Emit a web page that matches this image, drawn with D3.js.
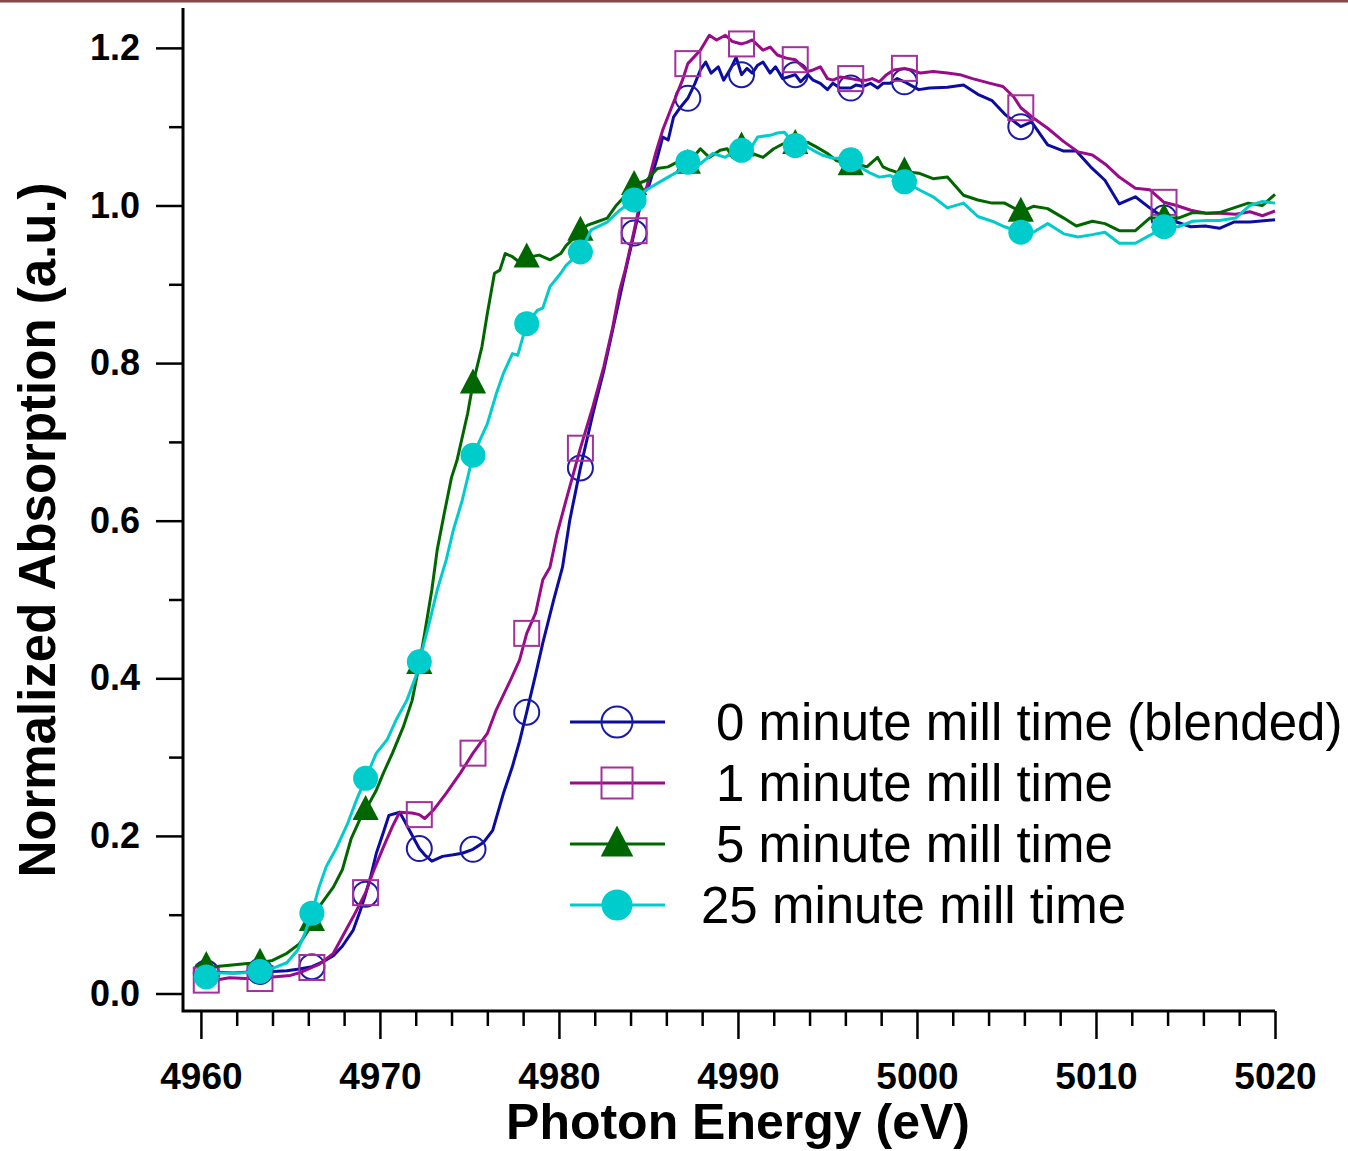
<!DOCTYPE html>
<html>
<head>
<meta charset="utf-8">
<script src="https://cdn.jsdelivr.net/npm/d3@7"></script>
<style>
  html, body { margin: 0; padding: 0; background: #fff; }
  svg { display: block; }
  text { font-family: "Liberation Sans", Arial, sans-serif; }
</style>
</head>
<body>
<svg id="chart" width="1348" height="1151"></svg>
<script>
// ---------------- DATA ----------------
const seriesNames = [
  "0 minute mill time (blended)",
  "1 minute mill time",
  "5 minute mill time",
  "25 minute mill time"
];
const xTickValues = [4960, 4970, 4980, 4990, 5000, 5010, 5020];
const yTickValues = [0.0, 0.2, 0.4, 0.6, 0.8, 1.0, 1.2];
const markerEnergies = [4960.3, 4963.3, 4966.2, 4969.2, 4972.2, 4975.2, 4978.2, 4981.2,
  4984.2, 4987.2, 4990.2, 4993.2, 4996.3, 4999.3, 5005.8, 5013.8];

// 0 minute (blended)  [energy eV, normalized absorption]
const series0 = [
  [4959.7,0.028],[4960.3,0.026],[4961.0,0.027],[4961.8,0.026],[4962.5,0.027],[4963.3,0.028],
  [4964.0,0.028],[4964.8,0.029],[4965.5,0.031],[4966.2,0.034],[4966.8,0.040],[4967.4,0.048],
  [4967.9,0.060],[4968.5,0.080],[4968.9,0.105],[4969.2,0.126],[4969.5,0.150],[4969.8,0.178],
  [4970.2,0.205],[4970.5,0.226],[4971.1,0.230],[4971.4,0.218],[4971.7,0.205],[4972.2,0.184],
  [4972.5,0.176],[4972.9,0.168],[4973.5,0.174],[4974.1,0.176],[4974.6,0.178],[4975.2,0.183],
  [4975.8,0.192],[4976.3,0.207],[4976.9,0.254],[4977.4,0.288],[4977.8,0.320],[4978.2,0.357],
  [4978.7,0.405],[4979.1,0.445],[4979.7,0.499],[4980.2,0.541],[4980.6,0.600],[4981.2,0.667],
  [4981.9,0.736],[4982.5,0.790],[4983.0,0.842],[4983.6,0.905],[4984.2,0.965],[4984.7,1.016],
  [4985.0,1.023],[4985.5,1.061],[4985.8,1.087],[4986.1,1.083],[4986.4,1.112],[4986.8,1.125],
  [4987.2,1.136],[4987.6,1.155],[4987.9,1.172],[4988.2,1.182],[4988.5,1.168],[4988.9,1.176],
  [4989.2,1.159],[4989.6,1.174],[4989.9,1.188],[4990.2,1.166],[4990.5,1.174],[4990.8,1.168],
  [4991.1,1.178],[4991.4,1.182],[4991.8,1.168],[4992.1,1.176],[4992.5,1.161],[4992.8,1.163],
  [4993.2,1.166],[4993.5,1.157],[4993.9,1.166],[4994.2,1.159],[4994.6,1.155],[4995.0,1.147],
  [4995.3,1.155],[4995.7,1.149],[4996.3,1.149],[4996.6,1.153],[4997.0,1.151],[4997.4,1.155],
  [4997.8,1.149],[4998.1,1.155],[4998.5,1.155],[4998.9,1.161],[4999.3,1.157],[5000.1,1.147],
  [5000.7,1.149],[5001.7,1.150],[5002.6,1.153],[5003.4,1.141],[5004.2,1.133],[5004.9,1.116],
  [5005.8,1.100],[5006.4,1.106],[5007.3,1.077],[5008.2,1.069],[5008.9,1.069],[5009.7,1.049],
  [5010.5,1.032],[5011.3,1.002],[5012.2,1.011],[5013.0,0.997],[5013.8,0.984],[5014.5,0.979],
  [5015.3,0.973],[5016.1,0.974],[5016.9,0.971],[5017.7,0.979],[5018.6,0.979],[5020.0,0.982]
];

// 1 minute
const series1 = [
  [4959.7,0.020],[4960.3,0.017],[4961.1,0.018],[4961.6,0.020],[4962.5,0.019],[4963.3,0.019],
  [4964.0,0.021],[4965.0,0.023],[4965.6,0.027],[4966.2,0.033],[4966.6,0.037],[4967.4,0.051],
  [4967.9,0.072],[4968.5,0.097],[4969.2,0.128],[4969.6,0.153],[4970.2,0.186],[4970.7,0.212],
  [4971.1,0.230],[4971.8,0.229],[4972.2,0.227],[4972.5,0.222],[4973.0,0.233],[4973.7,0.254],
  [4974.5,0.280],[4975.2,0.305],[4976.0,0.330],[4976.5,0.360],[4977.3,0.398],[4977.8,0.423],
  [4978.2,0.457],[4978.7,0.483],[4979.1,0.525],[4979.5,0.541],[4979.9,0.584],[4980.4,0.626],
  [4981.2,0.692],[4981.9,0.745],[4982.5,0.795],[4983.0,0.845],[4983.4,0.893],[4983.7,0.918],
  [4984.2,0.968],[4984.6,1.011],[4984.9,1.023],[4985.4,1.066],[4985.8,1.096],[4986.3,1.125],
  [4986.9,1.159],[4987.2,1.180],[4987.9,1.197],[4988.4,1.216],[4988.8,1.210],[4989.3,1.216],
  [4989.7,1.208],[4990.2,1.205],[4990.5,1.207],[4990.8,1.210],[4991.4,1.197],[4991.8,1.201],
  [4992.2,1.191],[4992.7,1.187],[4993.2,1.185],[4993.9,1.170],[4994.2,1.172],[4994.6,1.176],
  [4995.0,1.161],[4995.3,1.159],[4995.7,1.163],[4996.3,1.161],[4996.8,1.159],[4997.2,1.159],
  [4997.5,1.161],[4997.9,1.157],[4998.3,1.166],[4998.7,1.172],[4999.3,1.174],[4999.7,1.172],
  [5000.2,1.168],[5000.9,1.170],[5001.7,1.168],[5002.4,1.166],[5003.1,1.161],[5004.1,1.155],
  [5004.8,1.151],[5005.4,1.138],[5005.8,1.124],[5006.5,1.111],[5007.3,1.098],[5008.2,1.081],
  [5009.0,1.068],[5009.8,1.064],[5010.6,1.051],[5011.3,1.036],[5012.2,1.022],[5013.0,1.020],
  [5013.8,1.004],[5014.5,1.000],[5015.3,0.994],[5016.2,0.990],[5016.9,0.990],[5017.8,0.989],
  [5018.6,0.992],[5019.3,0.987],[5020.0,0.993]
];

// 5 minute
const series2 = [
  [4959.7,0.036],[4960.3,0.035],[4960.7,0.034],[4961.6,0.036],[4962.6,0.038],[4963.3,0.039],
  [4964.0,0.042],[4964.8,0.051],[4965.5,0.063],[4966.0,0.080],[4966.2,0.092],[4966.6,0.110],
  [4967.4,0.135],[4967.9,0.157],[4968.4,0.197],[4968.9,0.222],[4969.2,0.233],[4969.8,0.258],
  [4970.2,0.280],[4970.7,0.305],[4971.3,0.338],[4971.8,0.372],[4972.2,0.418],[4972.5,0.457],
  [4972.9,0.512],[4973.2,0.563],[4973.6,0.610],[4974.0,0.655],[4974.3,0.676],[4974.9,0.736],
  [4975.2,0.774],[4975.7,0.821],[4976.0,0.863],[4976.4,0.914],[4976.7,0.918],[4977.0,0.939],
  [4977.4,0.935],[4977.8,0.928],[4978.2,0.934],[4978.9,0.937],[4979.5,0.931],[4980.1,0.939],
  [4980.4,0.949],[4980.8,0.958],[4981.2,0.968],[4981.6,0.975],[4982.1,0.979],[4982.7,0.984],
  [4983.2,1.000],[4983.8,1.015],[4984.2,1.026],[4984.9,1.032],[4985.5,1.047],[4986.1,1.049],
  [4986.6,1.055],[4987.2,1.053],[4987.9,1.072],[4988.4,1.061],[4989.0,1.070],[4989.4,1.072],
  [4989.7,1.061],[4990.2,1.075],[4990.8,1.066],[4991.4,1.061],[4992.0,1.072],[4992.5,1.078],
  [4993.2,1.078],[4993.9,1.080],[4994.4,1.074],[4995.0,1.066],[4995.5,1.057],[4996.3,1.051],
  [4996.6,1.053],[4997.2,1.049],[4997.8,1.061],[4998.1,1.049],[4998.5,1.045],[4998.9,1.042],
  [4999.3,1.043],[5000.1,1.041],[5000.9,1.034],[5001.7,1.036],[5002.6,1.013],[5003.4,1.007],
  [5004.2,1.003],[5004.9,1.003],[5005.8,0.992],[5006.5,0.999],[5007.3,0.996],[5008.2,0.984],
  [5008.9,0.974],[5009.8,0.980],[5010.5,0.977],[5011.3,0.968],[5012.2,0.968],[5013.0,0.984],
  [5013.8,0.984],[5014.6,0.984],[5015.4,0.991],[5016.2,0.990],[5016.9,0.991],[5017.7,0.997],
  [5018.5,1.003],[5019.3,1.000],[5020.0,1.014]
];

// 25 minute
const series3 = [
  [4959.7,0.024],[4960.3,0.021],[4961.1,0.026],[4962.2,0.026],[4963.3,0.028],[4964.0,0.032],
  [4964.8,0.039],[4965.4,0.055],[4965.8,0.076],[4966.2,0.102],[4966.6,0.135],[4967.0,0.161],
  [4967.6,0.186],[4968.2,0.216],[4968.7,0.246],[4969.2,0.273],[4969.8,0.305],[4970.4,0.322],
  [4970.9,0.347],[4971.5,0.372],[4972.0,0.402],[4972.2,0.421],[4972.8,0.474],[4973.2,0.512],
  [4973.7,0.550],[4974.1,0.588],[4974.6,0.626],[4975.2,0.683],[4976.0,0.723],[4976.5,0.761],
  [4976.9,0.787],[4977.4,0.812],[4977.7,0.810],[4978.2,0.850],[4978.8,0.867],[4979.1,0.870],
  [4979.5,0.897],[4980.1,0.914],[4980.4,0.924],[4981.2,0.941],[4981.8,0.969],[4982.7,0.979],
  [4983.4,0.994],[4984.2,1.007],[4984.9,1.020],[4985.5,1.028],[4986.1,1.036],[4986.8,1.045],
  [4987.2,1.055],[4987.9,1.053],[4988.6,1.066],[4989.3,1.061],[4989.9,1.072],[4990.2,1.070],
  [4990.7,1.072],[4991.1,1.087],[4991.8,1.089],[4992.2,1.092],[4992.6,1.093],[4993.2,1.076],
  [4993.6,1.078],[4994.2,1.070],[4994.7,1.064],[4995.3,1.060],[4995.9,1.060],[4996.3,1.058],
  [4996.8,1.049],[4997.4,1.041],[4997.9,1.036],[4998.5,1.038],[4999.3,1.030],[5000.2,1.019],
  [5000.9,1.011],[5001.7,0.997],[5002.6,1.003],[5003.4,0.986],[5004.2,0.980],[5004.9,0.973],
  [5005.8,0.966],[5006.5,0.966],[5007.3,0.977],[5008.2,0.964],[5009.0,0.960],[5009.8,0.963],
  [5010.5,0.966],[5011.3,0.952],[5012.2,0.952],[5013.0,0.962],[5013.8,0.973],[5014.6,0.973],
  [5015.4,0.980],[5016.2,0.981],[5016.9,0.981],[5017.8,0.984],[5018.6,1.000],[5019.3,1.005],
  [5020.0,1.003]
];

const allSeries = [series0, series1, series2, series3];
const lineColors = ["#0c0ca0", "#990b88", "#006600", "#00cccc"];
const markerColors = ["#1a1aa8", "#a3309c", "#006600", "#00cccc"];
const markerKinds = ["circle-open", "square-open", "triangle", "circle-filled"];

// ---------------- LAYOUT ----------------
const svg = d3.select("#chart");
const x = d3.scaleLinear().domain([4959.0, 5020]).range([183, 1275]);
const y = d3.scaleLinear().domain([-0.0222, 1.2506]).range([1011, 8]);

// thin top border as in the reference
svg.append("rect").attr("x", 0).attr("y", 0).attr("width", 1348).attr("height", 2.5)
  .attr("fill", "#844848");

// ---------------- AXES ----------------
const xMajor = d3.axisBottom(x).tickValues(xTickValues).tickSize(28).tickPadding(24)
  .tickFormat(d3.format("d"));
const xMinorVals = d3.range(4962, 5020, 2).filter(v => v % 10 !== 0);
const xMinor = d3.axisBottom(x).tickValues(xMinorVals).tickSize(15).tickFormat("");

const gx = svg.append("g").attr("transform", "translate(0,1011)").call(xMajor);
const gxm = svg.append("g").attr("transform", "translate(0,1011)").call(xMinor);
[gx, gxm].forEach(g => {
  g.select(".domain").remove();
  g.selectAll(".tick line").attr("stroke", "#000").attr("stroke-width", 2.5);
});
gx.selectAll(".tick text").attr("fill", "#000").attr("font-size", 37).attr("font-weight", "bold")
  .attr("font-family", "'Liberation Sans', Arial, sans-serif").attr("dy", "0.71em");

const yMajor = d3.axisLeft(y).tickValues(yTickValues).tickSize(27).tickPadding(16)
  .tickFormat(d3.format(".1f"));
const yMinorVals = [0.1, 0.3, 0.5, 0.7, 0.9, 1.1];
const yMinor = d3.axisLeft(y).tickValues(yMinorVals).tickSize(14).tickFormat("");
const gy = svg.append("g").attr("transform", "translate(183,0)").call(yMajor);
const gym = svg.append("g").attr("transform", "translate(183,0)").call(yMinor);
[gy, gym].forEach(g => {
  g.select(".domain").remove();
  g.selectAll(".tick line").attr("stroke", "#000").attr("stroke-width", 2.5);
});
gy.selectAll(".tick text").attr("fill", "#000").attr("font-size", 36).attr("font-weight", "bold")
  .attr("font-family", "'Liberation Sans', Arial, sans-serif");

// axis lines
svg.append("path").attr("d", `M183,8 V1011 H1275`).attr("fill", "none")
  .attr("stroke", "#000").attr("stroke-width", 3);

// titles
svg.append("text").attr("x", 738).attr("y", 1139).attr("text-anchor", "middle")
  .attr("font-size", 50).attr("font-weight", "bold").attr("fill", "#000")
  .text("Photon Energy (eV)");
svg.append("text").attr("transform", "translate(55,530) rotate(-90)").attr("text-anchor", "middle")
  .attr("font-size", 51).attr("font-weight", "bold").attr("fill", "#000")
  .text("Normalized Absorption (a.u.)");

// ---------------- MARKS ----------------
const line = d3.line().x(d => x(d[0])).y(d => y(d[1]));

function drawMarker(g, kind, color, cx, cy, size) {
  if (kind === "circle-open") {
    g.append("circle").attr("cx", cx).attr("cy", cy).attr("r", size / 2)
      .attr("fill", "none").attr("stroke", color).attr("stroke-width", 2);
  } else if (kind === "square-open") {
    g.append("rect").attr("x", cx - size / 2).attr("y", cy - size / 2)
      .attr("width", size).attr("height", size)
      .attr("fill", "none").attr("stroke", color).attr("stroke-width", 2);
  } else if (kind === "triangle") {
    const h = size * 1.0, w = size * 1.05;
    g.append("path")
      .attr("d", `M${cx},${cy - h * 0.6} L${cx + w / 2},${cy + h * 0.4} L${cx - w / 2},${cy + h * 0.4} Z`)
      .attr("fill", color).attr("stroke", "none");
  } else {
    g.append("circle").attr("cx", cx).attr("cy", cy).attr("r", size / 2)
      .attr("fill", color).attr("stroke", "none");
  }
}

const plot = svg.append("g");
allSeries.forEach((s, i) => {
  const g = plot.append("g");
  g.append("path").datum(s).attr("d", line).attr("fill", "none")
    .attr("stroke", lineColors[i]).attr("stroke-width", 3).attr("stroke-linejoin", "round");
  s.filter(d => markerEnergies.some(e => Math.abs(e - d[0]) < 1e-6)).forEach(d => {
    drawMarker(g, markerKinds[i], markerColors[i], x(d[0]), y(d[1]), 25);
  });
});

// ---------------- LEGEND ----------------
const legendRows = [722, 783, 844, 905];
const legendTextX = [716, 716, 716, 701];
seriesNames.forEach((name, i) => {
  const g = svg.append("g");
  g.append("line").attr("x1", 570).attr("x2", 665).attr("y1", legendRows[i]).attr("y2", legendRows[i])
    .attr("stroke", lineColors[i]).attr("stroke-width", 3);
  drawMarker(g, markerKinds[i], markerColors[i], 617, legendRows[i], 31);
  g.append("text").attr("x", legendTextX[i]).attr("y", legendRows[i] + 18)
    .attr("font-size", 51).attr("fill", "#000").text(name);
});
</script>
</body>
</html>
